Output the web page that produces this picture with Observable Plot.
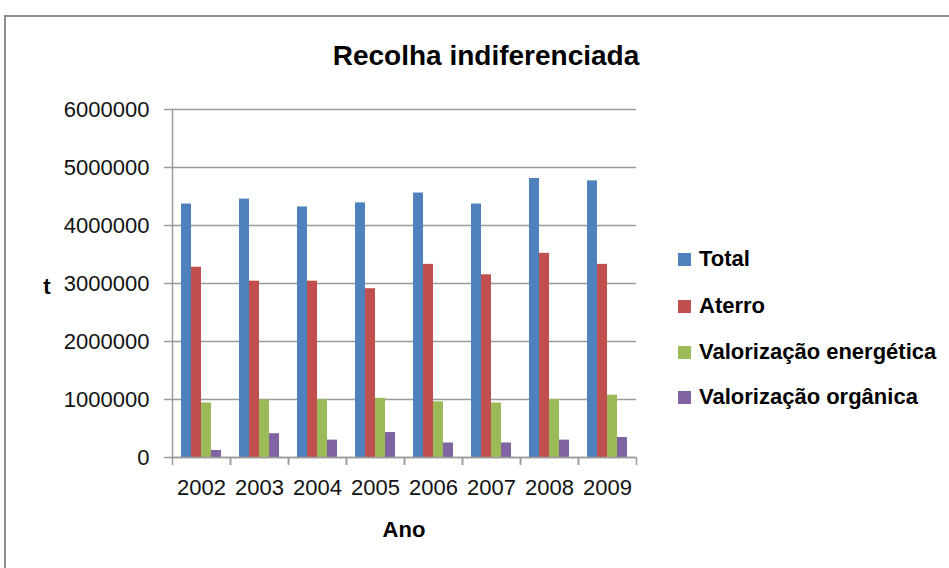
<!DOCTYPE html>
<html><head><meta charset="utf-8">
<script src="https://cdn.jsdelivr.net/npm/d3@7"></script>
<script src="https://cdn.jsdelivr.net/npm/@observablehq/plot@0.6"></script>
<style>
body{margin:0;background:#fff;}
#wrap{position:relative;width:949px;height:568px;overflow:hidden;font-family:"Liberation Sans",Arial,sans-serif;color:#000;}
#border{position:absolute;left:4px;top:15px;width:1000px;height:700px;border:2px solid #8c8c8c;box-sizing:border-box;}
#chart{position:absolute;left:0;top:0;}
.t{position:absolute;white-space:nowrap;font-weight:bold;line-height:1;}
#title{left:486px;top:56px;transform:translate(-50%,-50%);font-size:28px;}
#ylab{left:47px;top:287px;transform:translate(-50%,-50%);font-size:22px;}
#xlab{left:404px;top:530px;transform:translate(-50%,-50%);font-size:22px;}
#legend{position:absolute;left:678px;top:0;}
.row{position:absolute;left:0;display:flex;align-items:center;transform:translateY(-50%);white-space:nowrap;font-weight:bold;font-size:22px;}
.sw{width:13px;height:13px;margin-right:8px;}
</style></head>
<body>
<div id="wrap">
  <div id="border"></div>
  <div id="chart"></div>
  <div class="t" id="title">Recolha indiferenciada</div>
  <div class="t" id="ylab">t</div>
  <div class="t" id="xlab">Ano</div>
  <div id="legend"></div>
</div>
<script>
const years = ["2002","2003","2004","2005","2006","2007","2008","2009"];
const series = ["Total","Aterro","Valorização energética","Valorização orgânica"];
const total      = [4370000, 4455000, 4320000, 4390000, 4560000, 4370000, 4810000, 4770000];
const aterro     = [3280000, 3040000, 3040000, 2910000, 3330000, 3150000, 3520000, 3330000];
const energetica = [ 940000,  995000,  995000, 1020000,  960000,  940000, 1000000, 1075000];
const organica   = [ 120000,  410000,  300000,  430000,  250000,  250000,  300000,  345000];
const yTicks = [0, 1000000, 2000000, 3000000, 4000000, 5000000, 6000000];
const colors = ["#4F81BD", "#C0504D", "#9BBB59", "#8064A2"];

const seriesValues = [total, aterro, energetica, organica];
const table = [];
years.forEach((yr, i) => series.forEach((s, k) => table.push({year: yr, series: s, value: seriesValues[k][i]})));

const W = 949, H = 568, ML = 172, MR = 313, MT = 109, MB = 111;
const band = (W - ML - MR) / years.length;
const gridColor = "#9a9a9a";

const chart = Plot.plot({
  width: W, height: H,
  marginLeft: ML, marginRight: MR, marginTop: MT, marginBottom: MB,
  style: {fontFamily: "Liberation Sans, Arial, sans-serif", fontSize: "22px", background: "transparent", color: "#000"},
  fx: {domain: years, padding: 0, label: null},
  x: {domain: series, padding: 0, paddingOuter: 0.82, axis: null},
  y: {domain: [0, 6000000], label: null},
  color: {domain: series, range: colors},
  marks: [
    Plot.gridY(yTicks, {stroke: gridColor, strokeOpacity: 1, strokeWidth: 1.5}),
    Plot.barY(table, {fx: "year", x: "series", y: "value", fill: "series"}),
    Plot.ruleY([0], {stroke: gridColor, strokeWidth: 1.5}),
    Plot.frame({anchor: "left", facetAnchor: "left", stroke: gridColor, strokeWidth: 1.5}),
    Plot.axisY(yTicks, {tickSize: 8, tickPadding: 15, tickFormat: d => String(d), fontSize: 22, stroke: gridColor, strokeWidth: 1.5, fill: "#111", label: null}),
    Plot.axisFx({anchor: "bottom", tickSize: 0, tickPadding: 22, fontSize: 22, fill: "#111", label: null}),
    Plot.axisFx({anchor: "bottom", tickSize: 8, text: null, dx: -band / 2, stroke: gridColor, strokeWidth: 1.5, label: null}),
    Plot.axisFx({anchor: "bottom", tickSize: 8, text: null, dx: band / 2, stroke: gridColor, strokeWidth: 1.5, label: null})
  ]
});
document.getElementById("chart").appendChild(chart);

const legendY = [259, 306, 352, 397];
const legend = document.getElementById("legend");
series.forEach((s, k) => {
  const row = document.createElement("div");
  row.className = "row";
  row.style.top = legendY[k] + "px";
  row.innerHTML = `<div class="sw" style="background:${colors[k]}"></div><span>${s}</span>`;
  legend.appendChild(row);
});
</script>
</body></html>
